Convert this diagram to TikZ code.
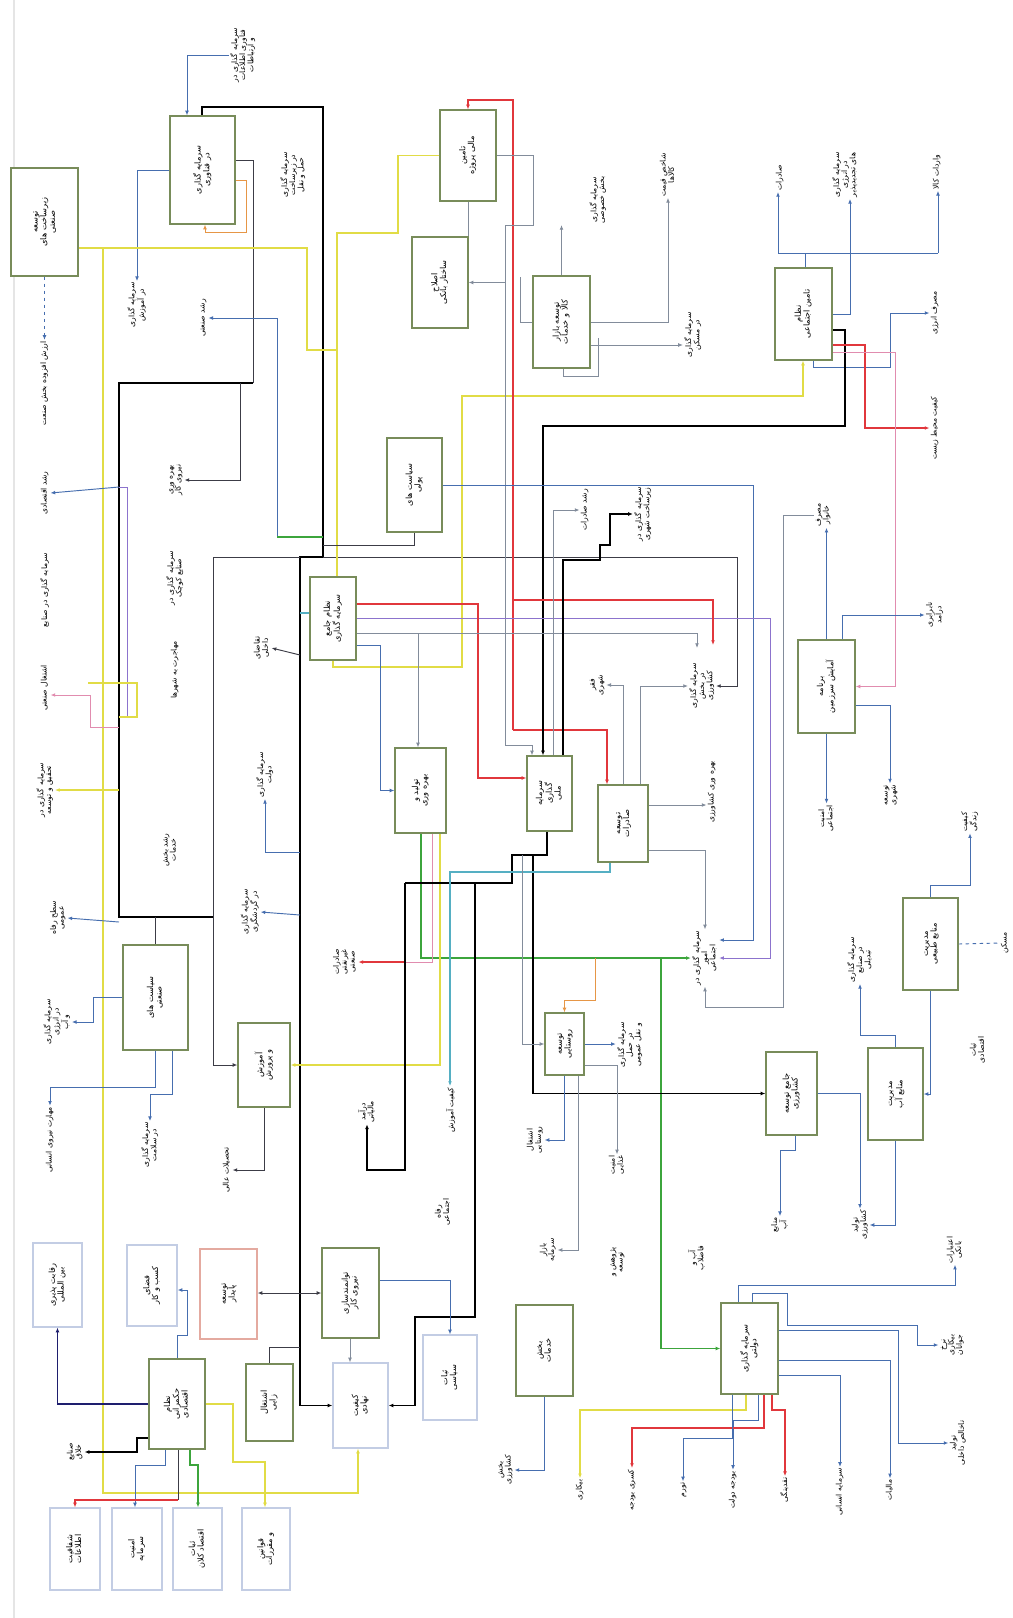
\documentclass[tikz,border=0pt]{standalone}
\usepackage{fontspec}
\newfontfamily\fa[Script=Arabic]{DejaVu Sans}
\TeXXeTstate=1
\usetikzlibrary{arrows.meta, backgrounds, positioning}
\newcommand{\vt}[1]{\rotatebox{90}{\begin{tabular}{@{}c@{}}#1\end{tabular}}}
\renewcommand{\arraystretch}{0.9}

\definecolor{boxc}{RGB}{120,140,90}
\definecolor{palec}{RGB}{195,205,228}
\definecolor{pinkc}{RGB}{228,170,160}
\definecolor{lblue}{RGB}{70,110,175}
\definecolor{lgray}{RGB}{130,140,155}
\definecolor{dgray}{RGB}{60,60,70}
\definecolor{lred}{RGB}{225,55,60}
\definecolor{lpink}{RGB}{225,140,175}
\definecolor{lyel}{RGB}{225,220,70}
\definecolor{lgreen}{RGB}{60,165,60}
\definecolor{lpurp}{RGB}{140,115,205}
\definecolor{lcyan}{RGB}{85,175,195}
\definecolor{lorange}{RGB}{230,150,70}
\definecolor{lnavy}{RGB}{30,30,110}

\begin{document}
\begin{tikzpicture}[
        x=0.3mm, y=-0.3mm,
        box/.style={draw=boxc, line width=1pt, fill=white, inner sep=1pt, font={\fa\fontsize{7}{8}\selectfont}},
        pale/.style={box, draw=palec},
        paler/.style={box, draw=pinkc},
        sz/.style 2 args={minimum width=#1*0.3mm, minimum height=#2*0.3mm},
        lab/.style={inner sep=1pt, font={\fa\fontsize{6.5}{7.5}\selectfont}},
        arr/.style={-{Latex[length=4pt,width=3.2pt]}},
        blk/.style={draw=black, line width=1.5pt},
        dk/.style={draw=dgray, line width=0.8pt},
        blu/.style={draw=lblue, line width=0.8pt},
        gry/.style={draw=lgray, line width=0.7pt},
        rd/.style={draw=lred, line width=1.2pt},
        pnk/.style={draw=lpink, line width=0.8pt},
        yel/.style={draw=lyel, line width=1.2pt},
        grn/.style={draw=lgreen, line width=1.2pt},
        pur/.style={draw=lpurp, line width=0.8pt},
        cyn/.style={draw=lcyan, line width=0.9pt},
        org/.style={draw=lorange, line width=0.8pt},
        nav/.style={draw=lnavy, line width=1pt}
    ]
    \useasboundingbox (0,0) rectangle (1013,1618);

    % boxes
    \node[box, sz={67}{108}] (A) at (44.5,222) {\vt{\beginR توسعه\endR \\ \beginR زیرساخت های\endR \\ \beginR صنعتی\endR}};
    \node[box, sz={65}{108}] (B) at (202.5,170) {\vt{\beginR سرمایه گذاری\endR \\ \beginR در فناوری\endR}};
    \node[box, sz={56}{91}] (C) at (468,155.5) {\vt{\beginR تامین\endR \\ \beginR مالی پروژه\endR}};
    \node[box, sz={56}{91}] (D) at (440,282.5) {\vt{\beginR اصلاح\endR \\ \beginR ساختار بانکی\endR}};
    \node[box, sz={57}{92}] (E) at (561.5,322) {\vt{\beginR توسعه بازار\endR \\ \beginR کالا و خدمات\endR}};
    \node[box, sz={57}{92}] (F) at (803.5,314) {\vt{\beginR نظام\endR \\ \beginR تامین اجتماعی\endR}};
    \node[box, sz={55}{94}] (G) at (414.5,485) {\vt{\beginR سیاست های\endR \\ \beginR پولی\endR}};
    \node[box, sz={46}{83}] (K) at (333,618.5) {\vt{\beginR نظام جامع\endR \\ \beginR سرمایه گذاری\endR}};
    \node[box, sz={51}{85}] (H) at (420.5,790.5) {\vt{\beginR تولید و\endR \\ \beginR بهره وری\endR}};
    \node[box, sz={45}{75}] (I) at (549.5,793.5) {\vt{\beginR سرمایه\endR \\ \beginR گذاری\endR \\ \beginR ملی\endR}};
    \node[box, sz={50}{77}] (J) at (623,823.5) {\vt{\beginR توسعه\endR \\ \beginR صادرات\endR}};
    \node[box, sz={57}{93}] (L) at (826.5,686.5) {\vt{\beginR برنامه\endR \\ \beginR آمایش سرزمین\endR}};
    \node[box, sz={65}{105}] (M) at (155.5,997.5) {\vt{\beginR سیاست های\endR \\ \beginR صنعتی\endR}};
    \node[box, sz={52}{84}] (N) at (264,1065) {\vt{\beginR آموزش\endR \\ \beginR و پرورش\endR}};
    \node[box, sz={39}{62}] (O) at (564.5,1044) {\vt{\beginR توسعه\endR \\ \beginR روستایی\endR}};
    \node[box, sz={51}{83}] (P) at (791.5,1093.5) {\vt{\beginR جامع توسعه\endR \\ \beginR کشاورزی\endR}};
    \node[box, sz={55}{92}] (Q) at (895.5,1094) {\vt{\beginR مدیریت\endR \\ \beginR منابع آب\endR}};
    \node[box, sz={55}{92}] (R) at (930.5,944) {\vt{\beginR مدیریت\endR \\ \beginR منابع طبیعی\endR}};
    \node[box, sz={56}{90}] (T) at (177,1404) {\vt{\beginR نظام\endR \\ \beginR حکمرانی\endR \\ \beginR اقتصادی\endR}};
    \node[box, sz={47}{77}] (U) at (269.5,1402.5) {\vt{\beginR اشتغال\endR \\ \beginR زایی\endR}};
    \node[box, sz={57}{90}] (V) at (350.5,1293) {\vt{\beginR توانمندسازی\endR \\ \beginR نیروی کار\endR}};
    \node[pale, sz={55}{85}] (W) at (360.5,1405.5) {\vt{\beginR کیفیت\endR \\ \beginR نهادی\endR}};
    \node[pale, sz={54}{85}] (X) at (450,1377.5) {\vt{\beginR ثبات\endR \\ \beginR سیاسی\endR}};
    \node[box, sz={57}{91}] (Y) at (544.5,1350.5) {\vt{\beginR بخش\endR \\ \beginR خدمات\endR}};
    \node[box, sz={57}{91}] (Z) at (749.5,1348.5) {\vt{\beginR سرمایه گذاری\endR \\ \beginR دولتی\endR}};
    \node[pale, sz={49}{84}] (S1) at (57.5,1285) {\vt{\beginR رقابت پذیری\endR \\ \beginR بین المللی\endR}};
    \node[pale, sz={50}{81}] (S2) at (152,1285.5) {\vt{\beginR فضای\endR \\ \beginR کسب و کار\endR}};
    \node[paler, sz={57}{90}] (S3) at (228.5,1294) {\vt{\beginR توسعه\endR \\ \beginR پایدار\endR}};
    \node[pale, sz={50}{82}] (B1) at (75,1549) {\vt{\beginR شفافیت\endR \\ \beginR اطلاعات\endR}};
    \node[pale, sz={50}{82}] (B2) at (137,1549) {\vt{\beginR امنیت\endR \\ \beginR سرمایه\endR}};
    \node[pale, sz={49}{82}] (B3) at (197.5,1549) {\vt{\beginR ثبات\endR \\ \beginR اقتصاد کلان\endR}};
    \node[pale, sz={48}{82}] (B4) at (266,1549) {\vt{\beginR قوانین\endR \\ \beginR و مقررات\endR}};

    % variables
    \node[lab] (l1) at (243,55) {\vt{\beginR سرمایه گذاری در\endR \\ \beginR فناوری اطلاعات\endR \\ \beginR و ارتباطات\endR}};
    \node[lab] (l2) at (293,175) {\vt{\beginR سرمایه گذاری\endR \\ \beginR در زیرساخت\endR \\ \beginR حمل و نقل\endR}};
    \node[lab] (l3) at (137,305) {\vt{\beginR سرمایه گذاری\endR \\ \beginR در آموزش\endR}};
    \node[lab] (l4) at (203,318) {\vt{\beginR رشد صنعتی\endR}};
    \node[lab, below=19mm of A] (l5) {\vt{\beginR ارزش افزوده بخش صنعت\endR}};
    \node[lab] (l6) at (598,200) {\vt{\beginR سرمایه گذاری\endR \\ \beginR بخش خصوصی\endR}};
    \node[lab] (l7) at (668,175) {\vt{\beginR شاخص قیمت\endR \\ \beginR کالاها\endR}};
    \node[lab] (l8) at (693,335) {\vt{\beginR سرمایه گذاری\endR \\ \beginR در مسکن\endR}};
    \node[lab] (l9) at (780,178) {\vt{\beginR صادرات\endR}};
    \node[lab] (l10) at (845,175) {\vt{\beginR سرمایه گذاری\endR \\ \beginR در انرژی\endR \\ \beginR های تجدیدپذیر\endR}};
    \node[lab] (l11) at (937,172) {\vt{\beginR واردات کالا\endR}};
    \node[lab] (l12) at (935,313) {\vt{\beginR مصرف انرژی\endR}};
    \node[lab] (l13) at (935,428) {\vt{\beginR کیفیت محیط زیست\endR}};
    \node[lab] (l14) at (45,493) {\vt{\beginR رشد اقتصادی\endR}};
    \node[lab] (l15) at (45,590) {\vt{\beginR سرمایه گذاری در صنایع\endR}};
    \node[lab] (l16) at (45,688) {\vt{\beginR اشتغال صنعتی\endR}};
    \node[lab] (l17) at (45,790) {\vt{\beginR سرمایه گذاری در\endR \\ \beginR تحقیق و توسعه\endR}};
    \node[lab] (l18) at (58,918) {\vt{\beginR سطح رفاه\endR \\ \beginR عمومی\endR}};
    \node[lab] (l19) at (57,1022) {\vt{\beginR سرمایه گذاری\endR \\ \beginR در انرژی\endR \\ \beginR و آب\endR}};
    \node[lab] (l20) at (50,1140) {\vt{\beginR مهارت نیروی انسانی\endR}};
    \node[lab] (l21) at (150,1145) {\vt{\beginR سرمایه گذاری\endR \\ \beginR در سلامت\endR}};
    \node[lab] (l22) at (175,480) {\vt{\beginR بهره وری\endR \\ \beginR نیروی کار\endR}};
    \node[lab] (l23) at (175,578) {\vt{\beginR سرمایه گذاری در\endR \\ \beginR صنایع کوچک\endR}};
    \node[lab] (l24) at (175,670) {\vt{\beginR مهاجرت به شهرها\endR}};
    \node[lab] (l25) at (262,648) {\vt{\beginR تقاضای\endR \\ \beginR داخلی\endR}};
    \node[lab] (l26) at (265,775) {\vt{\beginR سرمایه گذاری\endR \\ \beginR دولت\endR}};
    \node[lab] (l27) at (170,850) {\vt{\beginR رشد بخش\endR \\ \beginR خدمات\endR}};
    \node[lab] (l28) at (250,912) {\vt{\beginR سرمایه گذاری\endR \\ \beginR در گردشگری\endR}};
    \node[lab] (l29) at (227,1170) {\vt{\beginR تحصیلات عالی\endR}};
    \node[lab] (l30) at (345,962) {\vt{\beginR صادرات\endR \\ \beginR غیرنفتی\endR \\ \beginR صنعتی\endR}};
    \node[lab] (l31) at (367,1112) {\vt{\beginR درآمد\endR \\ \beginR مالیاتی\endR}};
    \node[lab] (l32) at (451,1110) {\vt{\beginR کیفیت آموزش\endR}};
    \node[lab] (l33) at (443,1212) {\vt{\beginR رفاه\endR \\ \beginR اجتماعی\endR}};
    \node[lab] (l34) at (630,1045) {\vt{\beginR سرمایه گذاری\endR \\ \beginR در حمل\endR \\ \beginR و نقل عمومی\endR}};
    \node[lab] (l35) at (535,1140) {\vt{\beginR اشتغال\endR \\ \beginR روستایی\endR}};
    \node[lab] (l36) at (617,1165) {\vt{\beginR امنیت\endR \\ \beginR غذایی\endR}};
    \node[lab] (l38) at (585,510) {\vt{\beginR رشد صادرات\endR}};
    \node[lab] (l39) at (643,514) {\vt{\beginR سرمایه گذاری در\endR \\ \beginR زیرساخت شهری\endR}};
    \node[lab] (l40) at (597,685) {\vt{\beginR فقر\endR \\ \beginR شهری\endR}};
    \node[lab] (l41) at (702,686) {\vt{\beginR سرمایه گذاری\endR \\ \beginR در بخش\endR \\ \beginR کشاورزی\endR}};
    \node[lab] (l42) at (823,515) {\vt{\beginR مصرف\endR \\ \beginR خانوار\endR}};
    \node[lab] (l43) at (935,615) {\vt{\beginR نابرابری\endR \\ \beginR درآمد\endR}};
    \node[lab, below=21mm of L] (l44) {\vt{\beginR امنیت\endR \\ \beginR اجتماعی\endR}};
    \node[lab] (l45) at (890,795) {\vt{\beginR توسعه\endR \\ \beginR شهری\endR}};
    \node[lab] (l46) at (712,792) {\vt{\beginR بهره وری کشاورزی\endR}};
    \node[lab] (l48) at (705,958) {\vt{\beginR سرمایه گذاری در\endR \\ \beginR امور\endR \\ \beginR اجتماعی\endR}};
    \node[lab] (l49) at (860,960) {\vt{\beginR سرمایه گذاری\endR \\ \beginR در صنایع\endR \\ \beginR تبدیلی\endR}};
    \node[lab] (l50) at (970,822) {\vt{\beginR کیفیت\endR \\ \beginR زندگی\endR}};
    \node[lab] (l51) at (1005,943) {\vt{\beginR مسکن\endR}};
    \node[lab] (l52) at (978,1050) {\vt{\beginR ثبات\endR \\ \beginR اقتصادی\endR}};
    \node[lab] (l53) at (780,1225) {\vt{\beginR منابع\endR \\ \beginR آب\endR}};
    \node[lab] (l54) at (860,1225) {\vt{\beginR تولید\endR \\ \beginR کشاورزی\endR}};
    \node[lab] (l55) at (697,1258) {\vt{\beginR آب و\endR \\ \beginR فاضلاب\endR}};
    \node[lab] (l56) at (955,1250) {\vt{\beginR اعتبارات\endR \\ \beginR بانکی\endR}};
    \node[lab] (l57) at (952,1345) {\vt{\beginR نرخ\endR \\ \beginR بیکاری\endR \\ \beginR جوانان\endR}};
    \node[lab] (l58) at (958,1443) {\vt{\beginR تولید\endR \\ \beginR ناخالص داخلی\endR}};
    \node[lab] (l59) at (683,1490) {\vt{\beginR تورم\endR}};
    \node[lab] (l60) at (733,1490) {\vt{\beginR بودجه دولت\endR}};
    \node[lab] (l61) at (785,1490) {\vt{\beginR نقدینگی\endR}};
    \node[lab] (l62) at (840,1492) {\vt{\beginR سرمایه انسانی\endR}};
    \node[lab] (l63) at (890,1490) {\vt{\beginR مالیات\endR}};
    \node[lab] (l64) at (580,1490) {\vt{\beginR بیکاری\endR}};
    \node[lab] (l65) at (632,1490) {\vt{\beginR کسری بودجه\endR}};
    \node[lab] (l66) at (505,1470) {\vt{\beginR بخش\endR \\ \beginR کشاورزی\endR}};
    \node[lab] (l67) at (548,1250) {\vt{\beginR بازار\endR \\ \beginR سرمایه\endR}};
    \node[lab] (l68) at (617,1262) {\vt{\beginR پژوهش و\endR \\ \beginR توسعه\endR}};
    \node[lab] (l69) at (75,1452) {\vt{\beginR صنایع\endR \\ \beginR خلاق\endR}};

    \begin{scope}[on background layer]
    \fill[white] (0,0) rectangle (1013,1618);
    \draw[draw=black!10, line width=2pt] (14,0) -- (14,1618);

    % top
    \draw[blu, arr] (l1.west) -| (187,0 |- B.north);
    \draw[blu, arr] (B.west) -| (l3.north);
    \draw[org, arr] (B.east |- 0,180) -- (246,180) |- (205,232) -- (205,0 |- B.south);
    \draw[dk] (B.east |- 0,160) -| (253,383);
    \draw[blk] (253,383) -| (119,917) -- (213,917);
    \draw[blk] (202,0 |- B.north) |- (323,107) -- (323,557);
    \draw[blk, arr] (323,557) -| (300,0 |- W.west) -- (W.west);
    \draw[dk, arr] (300,557) -| (213,0 |- N.west) -- (N.west);
    \draw[dk, arr] (323,557) -| (737,0 |- l41.east) -- (l41.east);
    \draw[blu, dashed, arr] (A.south) -- (l5.north);
    \draw[yel] (A.east |- 0,248) -- (307,248) -- (307,350) -| (337,0 |- K.north);
    \draw[yel, arr] (103,248) -- (103,1493) -| (358,0 |- W.south);
    \draw[yel] (C.west) -| (398,233) -| (337,0 |- K.north);
    \draw[yel, arr] (K.south) |- (462,667) |- (803,396) -- (803,0 |- F.south);
    \draw[rd, arr] (513,730) -- (513,100) -| (C.north);
    \draw[rd, arr] (513,730) -| (607,0 |- J.north);
    \draw[gry] (C.east) -| (533,225) -- (505,225);
    \draw[gry, arr] (505,225) -- (505,745) -| (532,0 |- I.north);
    \draw[gry, arr] (505,0 |- D.east) -- (D.east);
    \draw[gry] (C.south) -- (C.south |- D.north);
    \draw[gry, arr] (E.north) -- (E.north |- l6.south);
    \draw[gry, arr] (E.east) -| (l7.south);
    \draw[gry, arr] (E.east |- 0,345) -- (l8.west |- 0,345);
    \draw[gry] (E.west) -- (520,0 |- E.west) -- (520,277);
    \draw[gry] (563,0 |- E.south) |- (598,376) -- (598,338);
    \draw[blu] (778,253) -- (938,253);
    \draw[blu] (805,0 |- F.north) -- (805,253);
    \draw[blu] (F.east) -| (850,253);
    \draw[blu, arr] (778,253) -- (778,0 |- l9.south);
    \draw[blu, arr] (850,253) -- (850,0 |- l10.south);
    \draw[blu, arr] (938,253) -- (938,0 |- l11.south);
    \draw[blu, arr] (813,0 |- F.south) |- (890,367) |- (l12.west);
    \draw[blk, arr] (F.east |- 0,330) -| (845,426) -| (543,0 |- I.north);
    \draw[rd, arr] (F.east |- 0,345) -| (865,0 |- l13.west) -- (l13.west);
    \draw[pnk, arr] (F.east |- 0,352) -| (895,0 |- L.east) -- (L.east);

    % middle
    \draw[blu, arr] (G.east) -| (753,940) -- (l48.east |- 0,940);
    \draw[pur, arr] (K.east |- 0,618) -| (770,958) -- (l48.east |- 0,958);
    \draw[rd, arr] (K.east |- 0,604) -| (478,778) -- (I.west |- 0,778);
    \draw[rd, arr] (513,600) -| (713,645);
    \draw[gry] (K.east |- 0,633) -- (418,633);
    \draw[gry, arr] (418,633) -| (697,648);
    \draw[gry, arr] (418,633) -- (418,0 |- H.north);
    \draw[blu, arr] (K.east |- 0,645) -| (380,0 |- H.west) -- (H.west);
    \draw[dk] (G.south) |- (323,545);
    \draw[blu, arr] (L.north) -- (L.north |- l42.south);
    \draw[blu, arr] (842,0 |- L.north) |- (l43.west);
    \draw[blu, arr] (L.south) -- (L.south |- l44.north);
    \draw[blu, arr] (L.east |- 0,705) -| (l45.north);
    \draw[gry, arr] (l42.west) -| (783,1007) -| (l48.south);
    \draw[blk, arr] (563,0 |- I.north) |- (600,560) |- (610,545) |- (l39.west);
    \draw[gry, arr] (553,0 |- I.north) |- (l38.west);
    \draw[gry, arr] (640,0 |- J.north) |- (l41.west);
    \draw[gry, arr] (623,0 |- J.north) |- (l40.east);
    \draw[gry, arr] (J.east |- 0,850) -| (l48.north);
    \draw[gry, arr] (J.east |- 0,805) -- (l46.west |- 0,805);

    % below H and I
    \draw[grn, arr] (421,0 |- H.south) |- (l48.west);
    \draw[grn, arr] (661,958) |- (Z.west);
    \draw[pnk] (432,0 |- H.south) |- (405,962);
    \draw[rd, arr] (405,962) -- (l30.east);
    \draw[yel, arr] (440,0 |- H.south) |- (N.east);
    \draw[blk] (547,0 |- I.south) |- (512,855) |- (405,883);
    \draw[blk, arr] (405,883) -- (405,1170) -| (l31.south);
    \draw[blk, arr] (533,855) |- (P.west);
    \draw[blk, arr] (475,883) |- (415,1317) |- (W.east);
    \draw[cyn, arr] (610,0 |- J.south) |- (450,872) -- (450,0 |- l32.north);
    \draw[gry, arr] (522,855) |- (O.west);
    \draw[org, arr] (595,958) |- (O.north |- 0,1000) -- (O.north);
    \draw[blu, arr] (O.east) -- (O.east -| l34.west);
    \draw[blu, arr] (O.south) |- (l35.east);
    \draw[gry, arr] (O.east |- 0,1065) -| (l36.north);
    \draw[gry, arr] (578,0 |- O.south) |- (l67.east);

    % left column
    \draw[blu, arr] (119,487) -- (l14.east);
    \draw[pur] (119,487) -| (127,717) -- (119,717);
    \draw[yel] (88,683) -- (137,683) |- (119,717);
    \draw[pnk, arr] (119,727) -| (90,695) -- (l16.east |- 0,695);
    \draw[yel, arr] (119,790) -- (l17.east);
    \draw[blu, arr] (119,922) -- (l18.east);
    \draw[dk] (M.north) -- (M.north |- 0,917);
    \draw[blu, arr] (M.west) -| (93,1022) -- (l19.east |- 0,1022);
    \draw[blu, arr] (155,0 |- M.south) |- (50,1087) -- (l20.north);
    \draw[blu, arr] (172,0 |- M.south) |- (150,1094) -- (l21.north);
    \draw[dk, arr] (N.south) |- (l29.east);
    \draw[blu, arr] (300,852) -| (l26.south);
    \draw[blu, arr] (300,915) -- (l28.east);
    \draw[dk, arr] (300,655) -- (l25.east);
    \draw[cyn] (300,613) -- (K.west |- 0,613);
    \draw[dk, arr] (240,383) |- (l22.east);
    \draw[blu, arr] (277,537) |- (l4.east);
    \draw[grn] (277,537) -- (323,537);

    % bottom left
    \draw[nav, arr] (T.west) -| (S1.south);
    \draw[blk, arr] (T.west |- 0,1438) -- (137,1438) |- (l69.east);
    \draw[blu, arr] (T.north) -- (177,1335) -| (187,1290) -- (S2.east |- 0,1290);
    \draw[blu, arr] (165,0 |- T.south) |- (135,1465) -- (135,0 |- B2.north);
    \draw[dk] (178,0 |- T.south) -- (178,1500);
    \draw[rd, arr] (178,1500) -| (75,0 |- B1.north);
    \draw[grn, arr] (190,0 |- T.south) |- (198,1465) -- (198,0 |- B3.north);
    \draw[yel, arr] (T.east) -| (233,1462) -| (265,0 |- B4.north);
    \draw[dk, arr] (300,1293) -- (S3.east |- 0,1293);
    \draw[dk, arr] (300,1293) -- (V.west);
    \draw[dk] (U.north) |- (300,1347);
    \draw[blu, arr] (V.east |- 0,1280) -| (X.north);
    \draw[gry, arr] (350,0 |- V.south) -- (350,0 |- W.north);

    % bottom right
    \draw[blu, arr] (738,0 |- Z.north) -- (738,1285) -| (l56.south);
    \draw[blu, arr] (752,0 |- Z.north) |- (787,1293) |- (917,1325) |- (l57.west);
    \draw[blu, arr] (Z.east |- 0,1330) -| (898,1443) -- (l58.west |- 0,1443);
    \draw[blu, arr] (Z.east |- 0,1360) -| (l63.north);
    \draw[blu, arr] (Z.east |- 0,1375) -| (l62.north);
    \draw[rd, arr] (772,0 |- Z.south) |- (785,1410) -- (l61.north);
    \draw[blu, arr] (758,0 |- Z.south) |- (733,1420) -- (l60.north);
    \draw[rd, arr] (764,0 |- Z.south) |- (632,1428) -- (l65.north);
    \draw[yel, arr] (746,0 |- Z.south) |- (580,1410) -- (l64.north);
    \draw[blu, arr] (732,0 |- Z.south) |- (683,1438) -- (l59.north);
    \draw[blu, arr] (Y.south) |- (l66.east);
    \draw[blu, arr] (P.east) -| (l54.north);
    \draw[blu, arr] (795,0 |- P.south) -- (795,1150) -| (l53.north);
    \draw[blu, arr] (Q.south) |- (l54.east);
    \draw[blu, arr] (Q.north) -- (Q.north |- 0,1035) -| (l49.south);
    \draw[blu, arr] (R.north) -- (R.north |- 0,885) -| (l50.south);
    \draw[blu, arr] (R.south) |- (Q.east);
    \draw[blu, dashed] (R.east) -- (l51.west);
    \end{scope}
\end{tikzpicture}
\end{document}
